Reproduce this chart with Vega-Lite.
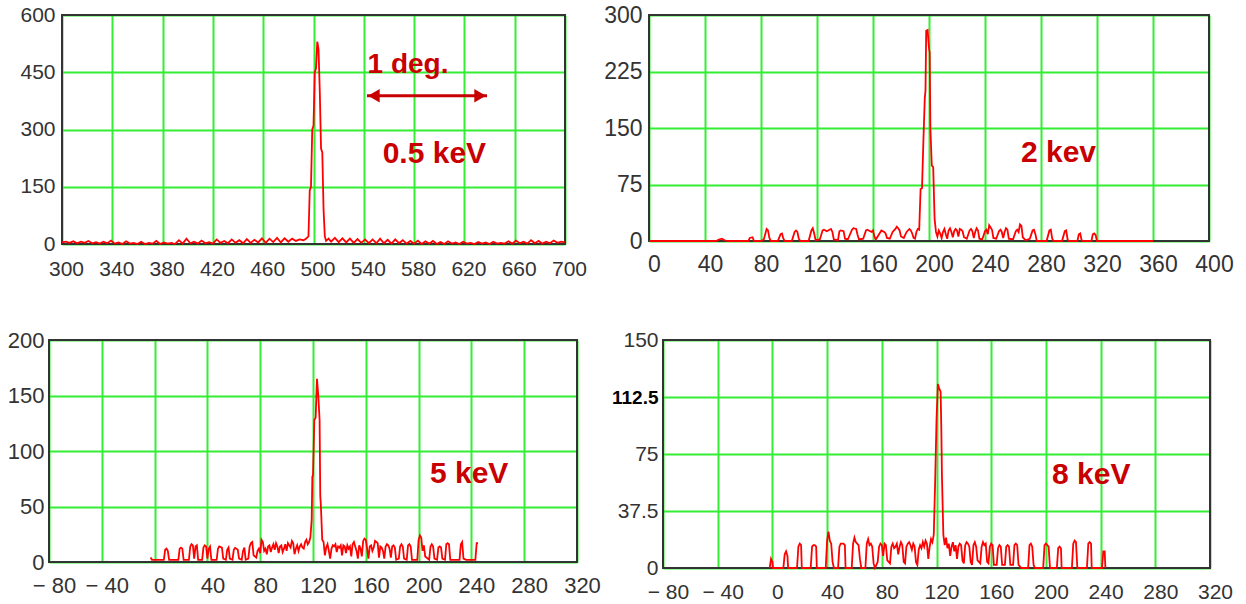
{
"$schema": "https://vega.github.io/schema/vega-lite/v6.json",
"padding": {"left": 0, "top": 4, "right": 0, "bottom": 0},
"background": "white",
"config": {
  "font": "Liberation Sans",
  "view": {"stroke": null},
  "axis": {"domain": false, "ticks": false, "grid": true, "gridColor": "#33ee33", "gridWidth": 2, "gridOpacity": 1, "labelColor": "#333333", "labelFont": "Liberation Sans", "labelOverlap": false, "labelFlush": false, "labelBound": false},
  "line": {"color": "#ff0000", "strokeWidth": 1.8}
},
"datasets": {
"tl": [{"x":300,"y":4},{"x":303,"y":6},{"x":306,"y":3},{"x":309,"y":7},{"x":312,"y":2},{"x":315,"y":6},{"x":318,"y":3},{"x":321,"y":8},{"x":324,"y":2},{"x":327,"y":5},{"x":330,"y":1},{"x":333,"y":6},{"x":336,"y":2},{"x":339,"y":9},{"x":342,"y":1},{"x":345,"y":4},{"x":348,"y":0},{"x":351,"y":7},{"x":354,"y":1},{"x":357,"y":3},{"x":360,"y":0},{"x":363,"y":6},{"x":366,"y":0},{"x":369,"y":3},{"x":372,"y":1},{"x":375,"y":8},{"x":378,"y":0},{"x":381,"y":4},{"x":384,"y":1},{"x":387,"y":3},{"x":390,"y":0},{"x":393,"y":10},{"x":396,"y":1},{"x":399,"y":14},{"x":402,"y":2},{"x":405,"y":6},{"x":408,"y":1},{"x":411,"y":9},{"x":414,"y":2},{"x":417,"y":5},{"x":420,"y":1},{"x":423,"y":12},{"x":426,"y":3},{"x":429,"y":8},{"x":432,"y":2},{"x":435,"y":12},{"x":438,"y":3},{"x":441,"y":10},{"x":444,"y":2},{"x":447,"y":13},{"x":450,"y":3},{"x":453,"y":11},{"x":456,"y":4},{"x":459,"y":15},{"x":462,"y":3},{"x":465,"y":14},{"x":468,"y":5},{"x":471,"y":16},{"x":474,"y":4},{"x":477,"y":15},{"x":480,"y":6},{"x":483,"y":14},{"x":486,"y":8},{"x":489,"y":12},{"x":492,"y":10},{"x":494,"y":14},{"x":496,"y":20},{"x":497,"y":140},{"x":498,"y":150},{"x":499,"y":300},{"x":500,"y":310},{"x":501,"y":450},{"x":502,"y":460},{"x":503,"y":530},{"x":504,"y":510},{"x":505,"y":400},{"x":506,"y":250},{"x":507,"y":240},{"x":508,"y":90},{"x":509,"y":20},{"x":510,"y":8},{"x":512,"y":14},{"x":514,"y":6},{"x":517,"y":16},{"x":520,"y":5},{"x":523,"y":15},{"x":526,"y":4},{"x":529,"y":14},{"x":532,"y":3},{"x":535,"y":13},{"x":538,"y":3},{"x":541,"y":12},{"x":544,"y":2},{"x":547,"y":12},{"x":550,"y":2},{"x":553,"y":14},{"x":556,"y":2},{"x":559,"y":11},{"x":562,"y":1},{"x":565,"y":12},{"x":568,"y":2},{"x":571,"y":10},{"x":574,"y":1},{"x":577,"y":8},{"x":580,"y":1},{"x":583,"y":9},{"x":586,"y":0},{"x":589,"y":7},{"x":592,"y":1},{"x":595,"y":8},{"x":598,"y":0},{"x":601,"y":5},{"x":604,"y":0},{"x":607,"y":7},{"x":610,"y":1},{"x":613,"y":4},{"x":616,"y":0},{"x":619,"y":6},{"x":622,"y":1},{"x":625,"y":3},{"x":628,"y":0},{"x":631,"y":5},{"x":634,"y":1},{"x":637,"y":4},{"x":640,"y":0},{"x":643,"y":6},{"x":646,"y":1},{"x":649,"y":3},{"x":652,"y":1},{"x":655,"y":7},{"x":658,"y":1},{"x":661,"y":9},{"x":664,"y":2},{"x":667,"y":6},{"x":670,"y":1},{"x":673,"y":10},{"x":676,"y":2},{"x":679,"y":8},{"x":682,"y":1},{"x":685,"y":6},{"x":688,"y":2},{"x":691,"y":9},{"x":694,"y":3},{"x":697,"y":6},{"x":700,"y":4}],
"tr": [{"x":0,"y":0},{"x":48,"y":0},{"x":50,"y":2},{"x":52,"y":3},{"x":54,"y":1},{"x":56,"y":0},{"x":71,"y":0},{"x":72,"y":4},{"x":74,"y":5},{"x":75,"y":0},{"x":80,"y":0},{"x":82,"y":2},{"x":84,"y":16},{"x":85,"y":14},{"x":86,"y":4},{"x":87,"y":0},{"x":92,"y":0},{"x":94,"y":9},{"x":95,"y":10},{"x":96,"y":3},{"x":97,"y":0},{"x":102,"y":0},{"x":104,"y":12},{"x":105,"y":14},{"x":106,"y":12},{"x":107,"y":3},{"x":108,"y":0},{"x":114,"y":0},{"x":116,"y":14},{"x":117,"y":17},{"x":118,"y":10},{"x":119,"y":1},{"x":122,"y":2},{"x":124,"y":14},{"x":125,"y":15},{"x":127,"y":13},{"x":128,"y":14},{"x":130,"y":16},{"x":131,"y":12},{"x":132,"y":2},{"x":135,"y":1},{"x":136,"y":13},{"x":137,"y":14},{"x":139,"y":13},{"x":140,"y":3},{"x":142,"y":2},{"x":145,"y":15},{"x":146,"y":17},{"x":148,"y":16},{"x":149,"y":8},{"x":150,"y":2},{"x":153,"y":3},{"x":155,"y":14},{"x":156,"y":15},{"x":158,"y":13},{"x":159,"y":12},{"x":160,"y":14},{"x":161,"y":6},{"x":162,"y":2},{"x":164,"y":8},{"x":166,"y":14},{"x":168,"y":12},{"x":169,"y":10},{"x":170,"y":4},{"x":172,"y":3},{"x":174,"y":12},{"x":176,"y":16},{"x":177,"y":19},{"x":178,"y":17},{"x":179,"y":14},{"x":180,"y":6},{"x":182,"y":4},{"x":184,"y":12},{"x":186,"y":16},{"x":187,"y":14},{"x":188,"y":10},{"x":189,"y":4},{"x":190,"y":3},{"x":191,"y":12},{"x":192,"y":16},{"x":193,"y":15},{"x":194,"y":69},{"x":195,"y":70},{"x":196,"y":133},{"x":197,"y":190},{"x":197.5,"y":200},{"x":198,"y":279},{"x":199,"y":280},{"x":200,"y":256},{"x":200.5,"y":250},{"x":201,"y":149},{"x":202,"y":100},{"x":203,"y":98},{"x":204,"y":29},{"x":205,"y":12},{"x":206,"y":6},{"x":207,"y":14},{"x":208,"y":10},{"x":209,"y":4},{"x":210,"y":12},{"x":211,"y":16},{"x":212,"y":9},{"x":213,"y":3},{"x":214,"y":14},{"x":215,"y":17},{"x":216,"y":12},{"x":217,"y":5},{"x":218,"y":13},{"x":219,"y":16},{"x":220,"y":14},{"x":221,"y":6},{"x":222,"y":16},{"x":223,"y":15},{"x":224,"y":13},{"x":225,"y":5},{"x":227,"y":3},{"x":229,"y":14},{"x":230,"y":16},{"x":231,"y":13},{"x":232,"y":4},{"x":233,"y":12},{"x":234,"y":17},{"x":235,"y":14},{"x":236,"y":3},{"x":238,"y":2},{"x":240,"y":13},{"x":241,"y":15},{"x":242,"y":9},{"x":243,"y":21},{"x":244,"y":18},{"x":245,"y":15},{"x":246,"y":4},{"x":248,"y":3},{"x":250,"y":13},{"x":251,"y":15},{"x":252,"y":12},{"x":253,"y":4},{"x":254,"y":12},{"x":255,"y":17},{"x":256,"y":15},{"x":257,"y":3},{"x":260,"y":2},{"x":262,"y":13},{"x":263,"y":15},{"x":264,"y":12},{"x":265,"y":22},{"x":266,"y":20},{"x":267,"y":5},{"x":269,"y":1},{"x":272,"y":3},{"x":274,"y":14},{"x":275,"y":15},{"x":276,"y":9},{"x":277,"y":0},{"x":284,"y":0},{"x":286,"y":14},{"x":287,"y":15},{"x":288,"y":3},{"x":289,"y":0},{"x":295,"y":0},{"x":297,"y":13},{"x":298,"y":14},{"x":299,"y":2},{"x":300,"y":0},{"x":306,"y":0},{"x":307,"y":9},{"x":308,"y":10},{"x":309,"y":1},{"x":310,"y":0},{"x":316,"y":0},{"x":317,"y":9},{"x":318,"y":10},{"x":319,"y":8},{"x":320,"y":0},{"x":360,"y":0}],
"bl": [{"x":-3,"y":4},{"x":-2,"y":2},{"x":7,"y":2},{"x":8,"y":11},{"x":9,"y":12},{"x":10,"y":10},{"x":11,"y":2},{"x":18,"y":2},{"x":19,"y":12},{"x":20,"y":13},{"x":21,"y":12},{"x":22,"y":2},{"x":26,"y":2},{"x":27,"y":14},{"x":28,"y":16},{"x":29,"y":15},{"x":30,"y":3},{"x":31,"y":14},{"x":32,"y":15},{"x":33,"y":2},{"x":36,"y":2},{"x":37,"y":13},{"x":38,"y":15},{"x":39,"y":14},{"x":40,"y":3},{"x":41,"y":12},{"x":42,"y":14},{"x":43,"y":2},{"x":47,"y":2},{"x":48,"y":12},{"x":49,"y":14},{"x":51,"y":13},{"x":52,"y":3},{"x":54,"y":2},{"x":55,"y":11},{"x":56,"y":13},{"x":57,"y":3},{"x":59,"y":2},{"x":60,"y":11},{"x":61,"y":12.6},{"x":62,"y":12},{"x":63,"y":11},{"x":64,"y":3},{"x":66,"y":2},{"x":67,"y":10},{"x":68,"y":13},{"x":69,"y":2},{"x":71,"y":3},{"x":72,"y":14},{"x":73,"y":17},{"x":74,"y":18},{"x":75,"y":6},{"x":77,"y":4},{"x":78,"y":10},{"x":79,"y":12},{"x":80,"y":8},{"x":81,"y":20},{"x":82,"y":18},{"x":83,"y":10},{"x":84,"y":12},{"x":85,"y":7},{"x":86,"y":14},{"x":87,"y":15},{"x":88,"y":9},{"x":89,"y":13},{"x":90,"y":16},{"x":91,"y":11},{"x":92,"y":17},{"x":93,"y":14},{"x":94,"y":8},{"x":95,"y":14},{"x":96,"y":15},{"x":97,"y":9},{"x":98,"y":12},{"x":99,"y":16},{"x":100,"y":10},{"x":101,"y":17},{"x":102,"y":15},{"x":103,"y":13},{"x":104,"y":19},{"x":105,"y":17},{"x":106,"y":7},{"x":107,"y":12},{"x":108,"y":15},{"x":109,"y":10},{"x":110,"y":14},{"x":111,"y":16},{"x":112,"y":13},{"x":113,"y":12},{"x":114,"y":18},{"x":115,"y":20},{"x":116,"y":16},{"x":117,"y":18},{"x":118,"y":22},{"x":119,"y":38},{"x":119.5,"y":77},{"x":120,"y":78},{"x":121,"y":128},{"x":122,"y":130},{"x":123,"y":165},{"x":124,"y":150},{"x":125,"y":128},{"x":125.5,"y":60},{"x":126,"y":50},{"x":127,"y":20},{"x":128,"y":18},{"x":129,"y":6},{"x":130,"y":13},{"x":131,"y":16},{"x":132,"y":10},{"x":133,"y":3},{"x":134,"y":12},{"x":135,"y":15},{"x":136,"y":14},{"x":137,"y":16},{"x":138,"y":9},{"x":139,"y":14},{"x":140,"y":13},{"x":141,"y":15},{"x":142,"y":6},{"x":143,"y":15},{"x":144,"y":14},{"x":145,"y":8},{"x":146,"y":15},{"x":147,"y":12},{"x":148,"y":14},{"x":149,"y":5},{"x":150,"y":16},{"x":151,"y":18},{"x":152,"y":14},{"x":153,"y":10},{"x":154,"y":3},{"x":155,"y":15},{"x":156,"y":12},{"x":157,"y":5},{"x":158,"y":19},{"x":159,"y":21},{"x":160,"y":20},{"x":161,"y":12},{"x":162,"y":3},{"x":163,"y":14},{"x":164,"y":15},{"x":165,"y":10},{"x":166,"y":13},{"x":167,"y":19},{"x":168,"y":18},{"x":169,"y":17},{"x":170,"y":4},{"x":171,"y":14},{"x":172,"y":13},{"x":173,"y":10},{"x":174,"y":3},{"x":175,"y":14},{"x":176,"y":16},{"x":177,"y":15},{"x":178,"y":12},{"x":179,"y":4},{"x":180,"y":14},{"x":181,"y":15},{"x":182,"y":13},{"x":183,"y":2},{"x":185,"y":3},{"x":186,"y":14},{"x":187,"y":16},{"x":188,"y":14},{"x":189,"y":3},{"x":191,"y":2},{"x":192,"y":15},{"x":193,"y":16},{"x":194,"y":14},{"x":195,"y":2},{"x":199,"y":2},{"x":200,"y":20},{"x":201,"y":24},{"x":202,"y":22},{"x":203,"y":10},{"x":204,"y":15},{"x":205,"y":5},{"x":208,"y":2},{"x":209,"y":14},{"x":210,"y":16},{"x":211,"y":14},{"x":212,"y":3},{"x":214,"y":2},{"x":215,"y":13},{"x":216,"y":14},{"x":217,"y":13},{"x":218,"y":3},{"x":220,"y":2},{"x":221,"y":16},{"x":222,"y":17},{"x":223,"y":16},{"x":224,"y":2},{"x":231,"y":2},{"x":232,"y":16},{"x":233,"y":18},{"x":234,"y":3},{"x":236,"y":2},{"x":243,"y":2},{"x":244,"y":17},{"x":245,"y":17}],
"br": [{"x":-2,"y":0},{"x":-1,"y":6},{"x":0,"y":4},{"x":0.5,"y":0},{"x":8,"y":0},{"x":9,"y":9},{"x":10,"y":11},{"x":11,"y":8},{"x":11.5,"y":0},{"x":18,"y":0},{"x":19,"y":14},{"x":20,"y":16},{"x":21,"y":15},{"x":21.5,"y":0},{"x":28,"y":0},{"x":29,"y":14},{"x":30,"y":15},{"x":31,"y":15},{"x":32,"y":14},{"x":32.5,"y":0},{"x":39,"y":0},{"x":40,"y":18},{"x":41,"y":24},{"x":42,"y":18},{"x":43,"y":16},{"x":44,"y":4},{"x":45,"y":0},{"x":48,"y":0},{"x":49,"y":14},{"x":50,"y":16},{"x":52,"y":16},{"x":53,"y":15},{"x":53.5,"y":0},{"x":58,"y":0},{"x":59,"y":16},{"x":60,"y":20},{"x":61,"y":17},{"x":62,"y":16},{"x":63,"y":15},{"x":64,"y":6},{"x":65,"y":0},{"x":68,"y":0},{"x":69,"y":16},{"x":70,"y":19},{"x":71,"y":15},{"x":72,"y":16},{"x":73,"y":14},{"x":74,"y":3},{"x":75,"y":0},{"x":77,"y":4},{"x":78,"y":14},{"x":79,"y":16},{"x":80,"y":15},{"x":81,"y":8},{"x":82,"y":16},{"x":83,"y":15},{"x":84,"y":5},{"x":86,"y":3},{"x":87,"y":14},{"x":88,"y":16},{"x":89,"y":13},{"x":90,"y":14},{"x":91,"y":16},{"x":92,"y":9},{"x":93,"y":14},{"x":94,"y":17},{"x":95,"y":15},{"x":96,"y":4},{"x":97,"y":3},{"x":98,"y":14},{"x":99,"y":16},{"x":100,"y":17},{"x":101,"y":15},{"x":102,"y":12},{"x":103,"y":16},{"x":104,"y":14},{"x":105,"y":4},{"x":106,"y":2},{"x":107,"y":12},{"x":108,"y":15},{"x":109,"y":13},{"x":110,"y":17},{"x":111,"y":14},{"x":112,"y":18},{"x":113,"y":16},{"x":114,"y":6},{"x":115,"y":14},{"x":116,"y":19},{"x":117,"y":17},{"x":118,"y":22},{"x":119,"y":56},{"x":120,"y":97},{"x":121,"y":121},{"x":122,"y":118},{"x":123,"y":116},{"x":123.5,"y":93},{"x":124,"y":60},{"x":125,"y":22},{"x":126,"y":15},{"x":127,"y":20},{"x":128,"y":13},{"x":129,"y":16},{"x":130,"y":8},{"x":131,"y":14},{"x":132,"y":17},{"x":133,"y":11},{"x":134,"y":15},{"x":135,"y":6},{"x":136,"y":14},{"x":137,"y":16},{"x":138,"y":15},{"x":139,"y":5},{"x":140,"y":3},{"x":141,"y":15},{"x":142,"y":17},{"x":143,"y":16},{"x":144,"y":14},{"x":145,"y":4},{"x":146,"y":2},{"x":147,"y":15},{"x":148,"y":17},{"x":149,"y":14},{"x":150,"y":5},{"x":152,"y":3},{"x":153,"y":14},{"x":154,"y":17},{"x":155,"y":15},{"x":156,"y":16},{"x":157,"y":4},{"x":158,"y":3},{"x":159,"y":14},{"x":160,"y":16},{"x":161,"y":15},{"x":162,"y":2},{"x":164,"y":2},{"x":165,"y":13},{"x":166,"y":15},{"x":167,"y":14},{"x":168,"y":2},{"x":170,"y":2},{"x":171,"y":14},{"x":172,"y":15},{"x":173,"y":14},{"x":174,"y":2},{"x":176,"y":2},{"x":177,"y":15},{"x":178,"y":16},{"x":179,"y":15},{"x":180,"y":2},{"x":182,"y":0},{"x":187,"y":0},{"x":188,"y":15},{"x":189,"y":16},{"x":190,"y":14},{"x":191,"y":2},{"x":192,"y":0},{"x":198,"y":0},{"x":199,"y":15},{"x":200,"y":16},{"x":201,"y":15},{"x":202,"y":14},{"x":203,"y":0},{"x":208,"y":0},{"x":209,"y":13},{"x":210,"y":14},{"x":211,"y":13},{"x":211.5,"y":0},{"x":219,"y":0},{"x":220,"y":16},{"x":221,"y":18},{"x":222,"y":17},{"x":223,"y":0},{"x":230,"y":0},{"x":231,"y":16},{"x":232,"y":17},{"x":233,"y":16},{"x":233.5,"y":0},{"x":241,"y":0},{"x":242,"y":11},{"x":243,"y":11},{"x":243.5,"y":0}]
},
"spacing": 50,
"vconcat": [
 {"spacing": 16, "hconcat": [
  {"width": 516, "height": 229,
   "layer": [
    {"data": {"values": [{}]}, "mark": {"type": "rect", "fill": null, "stroke": "#333333", "strokeWidth": 2},
     "encoding": {"x": {"datum": 300, "type": "quantitative", "title": null}, "x2": {"datum": 700}, "y": {"datum": 0, "type": "quantitative", "title": null}, "y2": {"datum": 600}}},
    {"data": {"name": "tl"}, "mark": {"type": "line", "color": "#ff0000", "strokeWidth": 1.8},
     "encoding": {
      "x": {"field": "x", "type": "quantitative", "title": null, "scale": {"domain": [300, 700], "range": [13, 516], "nice": false, "zero": false},
            "axis": {"values": [300,340,380,420,460,500,540,580,620,660,700], "labelFontSize": 21, "labelPadding": 14, "labelOffset": 4}},
      "y": {"field": "y", "type": "quantitative", "title": null, "scale": {"domain": [0, 600], "nice": false, "zero": false},
            "axis": {"values": [0,150,300,450,600], "labelFontSize": 21, "labelPadding": 7, "offset": -13}}
     }},
    {"data": {"values": [{"x": 542.5, "x2": 638, "y": 388.5}]}, "mark": {"type": "rule", "color": "#c80000", "strokeWidth": 3},
     "encoding": {"x": {"field": "x", "type": "quantitative", "title": null}, "x2": {"field": "x2"}, "y": {"field": "y", "type": "quantitative", "title": null}}},
    {"data": {"values": [{"x": 548, "y": 388.5, "dir": "triangle-left"}, {"x": 632.5, "y": 388.5, "dir": "triangle-right"}]},
     "mark": {"type": "point", "filled": true, "color": "#c80000", "size": 180, "opacity": 1},
     "encoding": {"x": {"field": "x", "type": "quantitative", "title": null}, "y": {"field": "y", "type": "quantitative", "title": null}, "shape": {"field": "dir", "type": "nominal", "scale": null}}},
    {"data": {"values": [{"x": 543, "y": 448, "text": "1 deg.", "size": 28}, {"x": 555, "y": 212, "text": "0.5 keV", "size": 30}]},
     "mark": {"type": "text", "align": "left", "baseline": "alphabetic", "font": "Liberation Sans", "fontWeight": "bold", "color": "#c80000"},
     "encoding": {"x": {"field": "x", "type": "quantitative", "title": null}, "y": {"field": "y", "type": "quantitative", "title": null}, "text": {"field": "text"}, "size": {"field": "size", "type": "quantitative", "scale": null}}}
   ]},
  {"width": 560, "height": 226,
   "layer": [
    {"data": {"values": [{}]}, "mark": {"type": "rect", "fill": null, "stroke": "#333333", "strokeWidth": 2},
     "encoding": {"x": {"datum": 0, "type": "quantitative", "title": null}, "x2": {"datum": 400}, "y": {"datum": 0, "type": "quantitative", "title": null}, "y2": {"datum": 300}}},
    {"data": {"name": "tr"}, "mark": {"type": "line", "color": "#ff0000", "strokeWidth": 1.8},
     "encoding": {
      "x": {"field": "x", "type": "quantitative", "title": null, "scale": {"domain": [0, 400], "nice": false, "zero": false},
            "axis": {"values": [0,40,80,120,160,200,240,280,320,360,400], "labelFontSize": 23, "labelPadding": 12, "labelOffset": 5}},
      "y": {"field": "y", "type": "quantitative", "title": null, "scale": {"domain": [0, 300], "nice": false, "zero": false},
            "axis": {"values": [0,75,150,225,300], "labelFontSize": 23, "labelPadding": 7}}
     }},
    {"data": {"values": [{"x": 265.7, "y": 105, "text": "2 kev"}]},
     "mark": {"type": "text", "align": "left", "baseline": "alphabetic", "font": "Liberation Sans", "fontWeight": "bold", "fontSize": 30, "color": "#c80000"},
     "encoding": {"x": {"field": "x", "type": "quantitative", "title": null}, "y": {"field": "y", "type": "quantitative", "title": null}, "text": {"field": "text"}}}
   ]}
 ]},
 {"spacing": 7, "hconcat": [
  {"width": 528, "height": 222,
   "layer": [
    {"data": {"values": [{}]}, "mark": {"type": "rect", "fill": null, "stroke": "#333333", "strokeWidth": 2},
     "encoding": {"x": {"datum": -80, "type": "quantitative", "title": null}, "x2": {"datum": 320}, "y": {"datum": 0, "type": "quantitative", "title": null}, "y2": {"datum": 200}}},
    {"data": {"name": "bl"}, "mark": {"type": "line", "color": "#ff0000", "strokeWidth": 1.8},
     "encoding": {
      "x": {"field": "x", "type": "quantitative", "title": null, "scale": {"domain": [-80, 320], "nice": false, "zero": false},
            "axis": {"values": [-80,-40,0,40,80,120,160,200,240,280,320], "labelFontSize": 22, "labelPadding": 13, "labelOffset": 5, "labelExpr": "datum.value < 0 ? '\u2212 ' + abs(datum.value) : datum.label"}},
      "y": {"field": "y", "type": "quantitative", "title": null, "scale": {"domain": [0, 200], "nice": false, "zero": false},
            "axis": {"values": [0,50,100,150,200], "labelFontSize": 22, "labelPadding": 5, "minExtent": 49}}
     }},
    {"data": {"values": [{"x": 208.6, "y": 71, "text": "5 keV"}]},
     "mark": {"type": "text", "align": "left", "baseline": "alphabetic", "font": "Liberation Sans", "fontWeight": "bold", "fontSize": 30, "color": "#c80000"},
     "encoding": {"x": {"field": "x", "type": "quantitative", "title": null}, "y": {"field": "y", "type": "quantitative", "title": null}, "text": {"field": "text"}}}
   ]},
  {"width": 547, "height": 228,
   "layer": [
    {"data": {"values": [{}]}, "mark": {"type": "rect", "fill": null, "stroke": "#333333", "strokeWidth": 2},
     "encoding": {"x": {"datum": -80, "type": "quantitative", "title": null}, "x2": {"datum": 320}, "y": {"datum": 0, "type": "quantitative", "title": null}, "y2": {"datum": 150}}},
    {"data": {"name": "br"}, "mark": {"type": "line", "color": "#ff0000", "strokeWidth": 1.8},
     "encoding": {
      "x": {"field": "x", "type": "quantitative", "title": null, "scale": {"domain": [-80, 320], "nice": false, "zero": false},
            "axis": {"values": [-80,-40,0,40,80,120,160,200,240,280,320], "labelFontSize": 21, "labelPadding": 13, "labelOffset": 5, "labelExpr": "datum.value < 0 ? '\u2212 ' + abs(datum.value) : datum.label"}},
      "y": {"field": "y", "type": "quantitative", "title": null, "scale": {"domain": [0, 150], "nice": false, "zero": false},
            "axis": {"values": [0,37.5,75,112.5,150], "labelPadding": 5, "minExtent": 55, "labelExpr": "'' + datum.value",
                     "labelFontSize": {"condition": {"test": "datum.value === 112.5", "value": 19}, "value": 21},
                     "labelFontWeight": {"condition": {"test": "datum.value === 112.5", "value": "bold"}, "value": "normal"},
                     "labelColor": {"condition": {"test": "datum.value === 112.5", "value": "#000000"}, "value": "#333333"}}}
     }},
    {"data": {"values": [{"x": 204.5, "y": 55.3, "text": "8 keV"}]},
     "mark": {"type": "text", "align": "left", "baseline": "alphabetic", "font": "Liberation Sans", "fontWeight": "bold", "fontSize": 30, "color": "#c80000"},
     "encoding": {"x": {"field": "x", "type": "quantitative", "title": null}, "y": {"field": "y", "type": "quantitative", "title": null}, "text": {"field": "text"}}}
   ]}
 ]}
]
}
